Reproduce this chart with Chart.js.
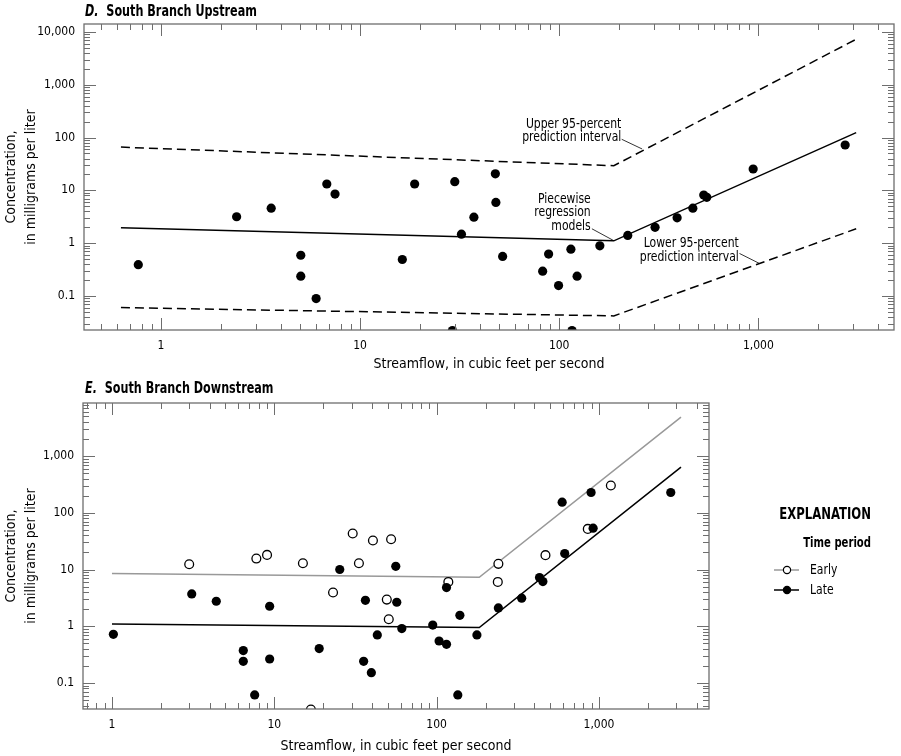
<!DOCTYPE html>
<html>
<head>
<meta charset="utf-8">
<script src="https://cdn.jsdelivr.net/npm/chart.js@4.4.0/dist/chart.umd.min.js"></script>
<style>
  body { margin: 0; background: #fff; width: 901px; height: 756px; position: relative; overflow: hidden;
         font-family: 'Liberation Sans Narrow', 'DejaVu Sans Condensed', sans-serif; }
  .panel { position: absolute; left: 0; width: 901px; height: 378px; }
  .ttl { position: absolute; left: 85px; font-weight: bold; font-size: 15px; z-index: 2; white-space: nowrap;
         transform: scaleX(0.83); transform-origin: left center; }
</style>
</head>
<body>
<div class="ttl" style="top:2px"><i>D.</i>&nbsp; South Branch Upstream</div>
<div class="panel" style="top:0"><canvas id="upChart"></canvas></div>
<div class="ttl" style="top:379px"><i>E.</i>&nbsp; South Branch Downstream</div>
<div class="panel" style="top:378px"><canvas id="downChart"></canvas></div>
<script>
const FONT = "'Liberation Sans Narrow', 'DejaVu Sans Condensed', sans-serif";

// D. South Branch Upstream -- observed samples
const upFlow = [0.77, 2.4, 3.58, 5.04, 5.04, 6.02, 6.81, 7.49, 16.3, 18.8, 29.1, 29.9, 32.3, 37.3, 47.8, 48.1,
                52.0, 82.6, 88.5, 99.3, 114.5, 116, 123, 160, 221, 303, 391, 469, 532, 551, 942, 2729];
const upConc = [0.39, 3.16, 4.6, 0.59, 0.237, 0.089, 13.2, 8.5, 0.49, 13.2, 0.022, 14.6, 1.48, 3.11, 20.6, 5.92,
                0.56, 0.294, 0.62, 0.157, 0.77, 0.022, 0.237, 0.89, 1.40, 1.99, 3.02, 4.6, 8.15, 7.37, 25.4, 72.4];
// piecewise model and 95-percent prediction interval
const upFitFlow = [0.63, 188, 3100];
const upFit = [1.95, 1.105, 124];
const upUpper = [66, 29.3, 7300];
const upLower = [0.060, 0.0418, 1.87];

// E. South Branch Downstream
const earlyFlow = [2.99, 7.75, 9.02, 15.0, 16.8, 23.0, 30.4, 33.2, 40.5, 49.3, 50.7, 52.4, 118, 238, 240, 468, 853, 1183];
const earlyConc = [12.4, 15.6, 18.1, 12.9, 0.034, 3.93, 43.1, 12.9, 32.5, 2.95, 1.33, 34.2, 6.04, 6.04, 12.6, 17.9, 52.0, 303];
const lateFlow = [1.02, 3.10, 4.39, 6.44, 6.44, 7.57, 9.36, 9.36, 18.9, 25.3, 35.5, 36.4, 39.6, 43.1, 56.0, 56.8, 61.0,
                  94.6, 103.5, 115, 115, 135, 139, 177, 240, 334, 430, 451, 593, 615, 894, 920, 2767];
const lateConc = [0.72, 3.71, 2.76, 0.373, 0.241, 0.0615, 2.25, 0.265, 0.404, 10.0, 0.241, 2.87, 0.152, 0.703, 11.4, 2.65, 0.91,
                  1.05, 0.55, 0.48, 4.81, 0.0615, 1.56, 0.703, 2.10, 3.12, 7.22, 6.14, 154, 19.1, 228, 53.5, 228];
const downFitFlow = [1.0, 183, 3200];
const earlyFit = [8.5, 7.31, 4850];
const lateFit = [1.10, 0.95, 637];

// tick labels
const upXTicks = [1, 10, 100, 1000];
const upXLabels = ['1', '10', '100', '1,000'];
const upYTicks = [0.1, 1, 10, 100, 1000, 10000];
const upYLabels = ['0.1', '1', '10', '100', '1,000', '10,000'];
const downXTicks = [1, 10, 100, 1000];
const downXLabels = ['1', '10', '100', '1,000'];
const downYTicks = [0.1, 1, 10, 100, 1000];
const downYLabels = ['0.1', '1', '10', '100', '1,000'];

// callouts on panel D (anchored in data units)
const upNotes = [
  { text: ['Upper 95-percent', 'prediction interval'], x: 205, y: 181, lead: [[206, 92.9], [261, 60.8]] },
  { text: ['Piecewise', 'regression', 'models'], x: 144, y: 6.85, lead: [[146, 1.87], [186, 1.14]] },
  { text: ['Lower 95-percent', 'prediction interval'], x: 798, y: 0.99, lead: [[804, 0.638], [1013, 0.412]] }
];

const zip = (xs, ys) => xs.map((x, i) => ({ x: x, y: ys[i] }));

function logSteps(min, max) {
  const out = [];
  for (let e = Math.floor(Math.log10(min)); e <= Math.ceil(Math.log10(max)); e++) {
    for (let m = 1; m <= 9; m++) {
      const v = m * Math.pow(10, e);
      if (v >= min && v <= max) out.push({ v: v, major: m === 1 });
    }
  }
  return out;
}

// squeeze text horizontally, the condensed face is wider than the original
function narrowText(ctx, text, x, y, align, sx) {
  ctx.save();
  ctx.translate(x, y);
  ctx.scale(sx, 1);
  ctx.textAlign = align;
  ctx.fillText(text, 0, 0);
  ctx.restore();
}

// frame with inward ticks on all four sides
const frameTicks = {
  id: 'frameTicks',
  afterDraw(chart) {
    const { ctx, chartArea: a, scales: { x, y } } = chart;
    ctx.save();
    ctx.strokeStyle = '#6e6e6e';
    ctx.lineWidth = 1.3;
    ctx.strokeRect(a.left, a.top, a.right - a.left, a.bottom - a.top);
    ctx.beginPath();
    logSteps(x.min, x.max).forEach(t => {
      const px = Math.round(x.getPixelForValue(t.v)) + 0.5;
      const len = t.major ? 12 : 6;
      ctx.moveTo(px, a.bottom); ctx.lineTo(px, a.bottom - len);
      ctx.moveTo(px, a.top); ctx.lineTo(px, a.top + len);
    });
    logSteps(y.min, y.max).forEach(t => {
      const py = Math.round(y.getPixelForValue(t.v)) + 0.5;
      const len = t.major ? 12 : 6;
      ctx.moveTo(a.left, py); ctx.lineTo(a.left + len, py);
      ctx.moveTo(a.right, py); ctx.lineTo(a.right - len, py);
    });
    ctx.lineWidth = 1;
    ctx.stroke();
    ctx.restore();
  }
};

const notesPlugin = {
  id: 'notes',
  afterDatasetsDraw(chart, args, opts) {
    if (!opts.items) return;
    const { ctx, scales: { x, y } } = chart;
    ctx.save();
    ctx.font = '14px ' + FONT;
    ctx.fillStyle = '#000';
    ctx.textBaseline = 'middle';
    opts.items.forEach(n => {
      const px = x.getPixelForValue(n.x), py = y.getPixelForValue(n.y);
      n.text.forEach((t, i) => narrowText(ctx, t, px, py + i * 13.7, 'right', 0.86));
      ctx.beginPath();
      ctx.moveTo(x.getPixelForValue(n.lead[0][0]), y.getPixelForValue(n.lead[0][1]));
      ctx.lineTo(x.getPixelForValue(n.lead[1][0]), y.getPixelForValue(n.lead[1][1]));
      ctx.strokeStyle = '#000';
      ctx.lineWidth = 0.8;
      ctx.stroke();
    });
    ctx.restore();
  }
};

const explanation = {
  id: 'explanation',
  afterDraw(chart, args, opts) {
    if (!opts.show) return;
    const { ctx, chartArea: a } = chart;
    const x0 = a.right;
    ctx.save();
    ctx.fillStyle = '#000';
    ctx.textBaseline = 'middle';
    ctx.font = 'bold 16px ' + FONT;
    narrowText(ctx, 'EXPLANATION', x0 + 162, 137, 'right', 0.81);
    ctx.font = 'bold 14px ' + FONT;
    narrowText(ctx, 'Time period', x0 + 162, 165, 'right', 0.8);
    ctx.font = '14px ' + FONT;
    chart.data.datasets.filter(d => d.legendRow !== undefined).forEach(d => {
      const yy = 192 + d.legendRow * 20;
      ctx.beginPath();
      ctx.moveTo(x0 + 65, yy); ctx.lineTo(x0 + 90, yy);
      ctx.strokeStyle = d.lineColor; ctx.lineWidth = 1.5; ctx.stroke();
      ctx.beginPath();
      ctx.arc(x0 + 78, yy, 3.6, 0, Math.PI * 2);
      ctx.fillStyle = d.backgroundColor; ctx.fill();
      ctx.strokeStyle = '#000'; ctx.lineWidth = 1.2; ctx.stroke();
      ctx.fillStyle = '#000';
      narrowText(ctx, d.label, x0 + 101, yy, 'left', 0.86);
    });
    ctx.restore();
  }
};

function logAxis(opts) {
  return {
    type: 'logarithmic',
    min: opts.min, max: opts.max,
    afterBuildTicks: s => { s.ticks = opts.ticks.map(v => ({ value: v })); },
    afterFit: s => { if (s.isHorizontal()) s.height = opts.size; else s.width = opts.size; },
    grid: { display: false, drawTicks: false },
    border: { display: false },
    ticks: {
      autoSkip: false, maxRotation: 0, padding: opts.pad, color: '#000',
      font: { family: FONT, size: 12 },
      callback: (v, i) => opts.labels[i]
    },
    title: {
      display: true, text: opts.title, color: '#000',
      font: { family: FONT, size: 14, lineHeight: 1.4 },
      padding: { top: 2, bottom: 0 }
    }
  };
}

const lineSet = (xs, ys, color, dash) => ({
  data: zip(xs, ys), showLine: true, pointRadius: 0, borderColor: color,
  borderWidth: 1.5, borderDash: dash || [], order: 2, clip: 0
});

const yTitle = ['Concentration,', 'in milligrams per liter'];
const xTitle = 'Streamflow, in cubic feet per second';

new Chart(document.getElementById('upChart'), {
  type: 'scatter',
  data: {
    datasets: [
      lineSet(upFitFlow, upUpper, '#000', [9, 5]),
      lineSet(upFitFlow, upFit, '#000'),
      lineSet(upFitFlow, upLower, '#000', [9, 5]),
      { data: zip(upFlow, upConc), pointRadius: 4.6, backgroundColor: '#000', borderColor: '#000',
        borderWidth: 0, order: 1, clip: 0 }
    ]
  },
  options: {
    responsive: true, maintainAspectRatio: false, animation: false,
    layout: { padding: { top: 24, right: 7, bottom: 4, left: 0 } },
    plugins: { legend: { display: false }, tooltip: { enabled: false }, notes: { items: upNotes } },
    scales: {
      x: logAxis({ min: 0.411, max: 4800, ticks: upXTicks, labels: upXLabels, size: 44, pad: 9, title: xTitle }),
      y: logAxis({ min: 0.0226, max: 14200, ticks: upYTicks, labels: upYLabels, size: 84, pad: 9, title: yTitle })
    }
  },
  plugins: [frameTicks, notesPlugin]
});

new Chart(document.getElementById('downChart'), {
  type: 'scatter',
  data: {
    datasets: [
      lineSet(downFitFlow, earlyFit, '#999'),
      lineSet(downFitFlow, lateFit, '#000'),
      { label: 'Early', legendRow: 0, lineColor: '#999', data: zip(earlyFlow, earlyConc), pointRadius: 4.4,
        backgroundColor: '#fff', borderColor: '#000', borderWidth: 1.3, order: 1, clip: 0 },
      { label: 'Late', legendRow: 1, lineColor: '#000', data: zip(lateFlow, lateConc), pointRadius: 4.6,
        backgroundColor: '#000', borderColor: '#000', borderWidth: 0, order: 0, clip: 0 }
    ]
  },
  options: {
    responsive: true, maintainAspectRatio: false, animation: false,
    layout: { padding: { top: 25, right: 192, bottom: 0, left: 0 } },
    plugins: { legend: { display: false }, tooltip: { enabled: false }, explanation: { show: true } },
    scales: {
      x: logAxis({ min: 0.663, max: 4760, ticks: downXTicks, labels: downXLabels, size: 47, pad: 9, title: xTitle }),
      y: logAxis({ min: 0.0348, max: 8610, ticks: downYTicks, labels: downYLabels, size: 83, pad: 9, title: yTitle })
    }
  },
  plugins: [frameTicks, explanation]
});
</script>
</body>
</html>
